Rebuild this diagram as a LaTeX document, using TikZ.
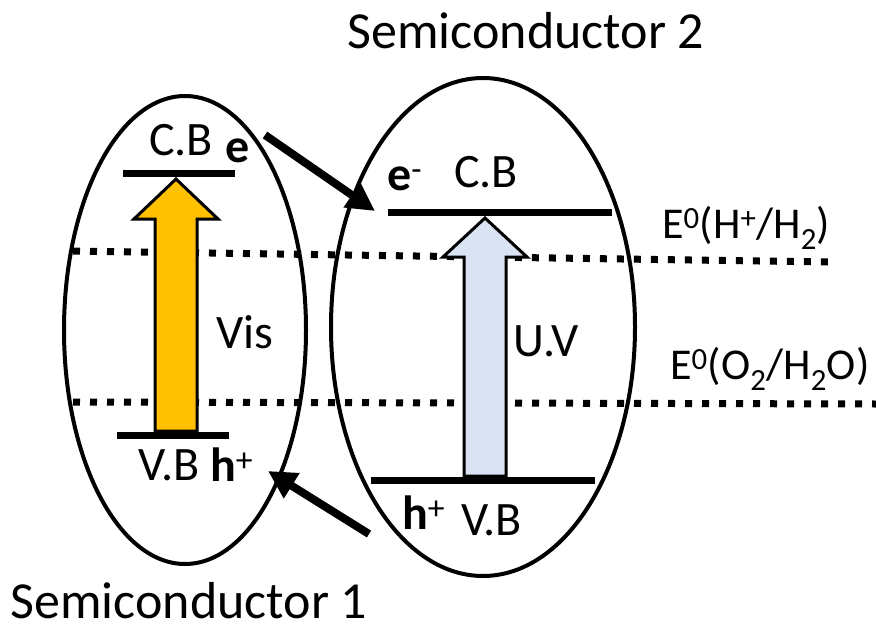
\documentclass[tikz,border=0pt]{standalone}
\usepackage{fontspec}
\setmainfont{Carlito}
\usetikzlibrary{arrows.meta,shapes.geometric,calc}
\definecolor{visfill}{RGB}{255,192,0}
\definecolor{uvfill}{RGB}{218,227,243}
\begin{document}
\begin{tikzpicture}[x=1pt,y=-1pt,line join=round,
	txt/.style={inner sep=0pt,font=\fontsize{48}{56}\selectfont},
	big/.style={inner sep=0pt,font=\fontsize{52}{60}\selectfont},
	pot/.style={inner sep=0pt,font=\fontsize{44}{52}\selectfont},
	band/.style={line width=7pt},
	redox/.style={line width=7pt,dash pattern=on 7pt off 10pt},
	shell/.style={ellipse,draw,line width=4pt,inner sep=0pt},
	photon/.style={draw,line width=3pt,line join=miter},
	hop/.style={line width=8pt,-{Triangle[length=28pt,width=28pt]}}]
	\useasboundingbox (0,0) rectangle (876,629);
	\draw[redox] (73,251)--(828,262);
	\draw[redox] (73,402)--(876,404);
	\node[shell,minimum width=242pt,minimum height=468pt] (sc1) at (185,330) {};
	\node[shell,minimum width=304pt,minimum height=498pt] (sc2) at (483,327) {};
	\coordinate (cb1) at (176,173); \coordinate (vb1) at (176,435);
	\coordinate (cb2) at (485,212); \coordinate (vb2) at (485,480);
	\draw[band] (123,173)--(235,173) (117,435)--(229,435);
	\draw[band] (388,212)--(612,212) (371,480)--(595,480);
	\draw[photon,fill=visfill] ($(vb1)+(-21,-4)$)--($(cb1)+(-21,46)$)--($(cb1)+(-42,46)$)--($(cb1)+(0,6)$)
		--($(cb1)+(42,46)$)--($(cb1)+(21,46)$)--($(vb1)+(21,-4)$)--cycle;
	\draw[photon,fill=uvfill] ($(vb2)+(-21,-4)$)--($(cb2)+(-21,45)$)--($(cb2)+(-42,45)$)--($(cb2)+(0,6)$)
		--($(cb2)+(42,45)$)--($(cb2)+(21,45)$)--($(vb2)+(21,-4)$)--cycle;
	\coordinate (eout) at (265,135); \coordinate (ein) at (375,211);
	\coordinate (hout) at (369,534); \coordinate (hin) at (268,471);
	\draw[hop] (eout)--(ein);
	\draw[hop] (hout)--(hin);
	\node[big,anchor=base] (sem2) at (526,48) {Semiconductor 2};
	\node[big,anchor=base] (sem1) at (189,618) {Semiconductor 1};
	\node[txt,anchor=base] (cbl) at (181,155) {C.B};
	\node[txt,anchor=base west] (el) at (225,162) {\textbf{e}};
	\node[txt,anchor=base west] (er) at (387,190) {\textbf{e}\textsuperscript{-}};
	\node[txt,anchor=base] (cbr) at (486,187) {C.B};
	\node[txt,anchor=base west] (vis) at (216,348) {Vis};
	\node[txt,anchor=base west] (uv) at (513,356) {U.V};
	\node[txt,anchor=base] (vbl) at (169,480) {V.B};
	\node[txt,anchor=base west] (hl) at (210,481) {\textbf{h}\textsuperscript{+}};
	\node[txt,anchor=base west] (hr) at (402,529) {\textbf{h}\textsuperscript{+}};
	\node[txt,anchor=base west] (vbr) at (461,535) {V.B};
	\node[pot,anchor=base west] (hred) at (662,238) {E\textsuperscript{0}(H\textsuperscript{+}/H\textsubscript{2})};
	\node[pot,anchor=base west] (oxy) at (670,379) {E\textsuperscript{0}(O\textsubscript{2}/H\textsubscript{2}O)};
\end{tikzpicture}
\end{document}
